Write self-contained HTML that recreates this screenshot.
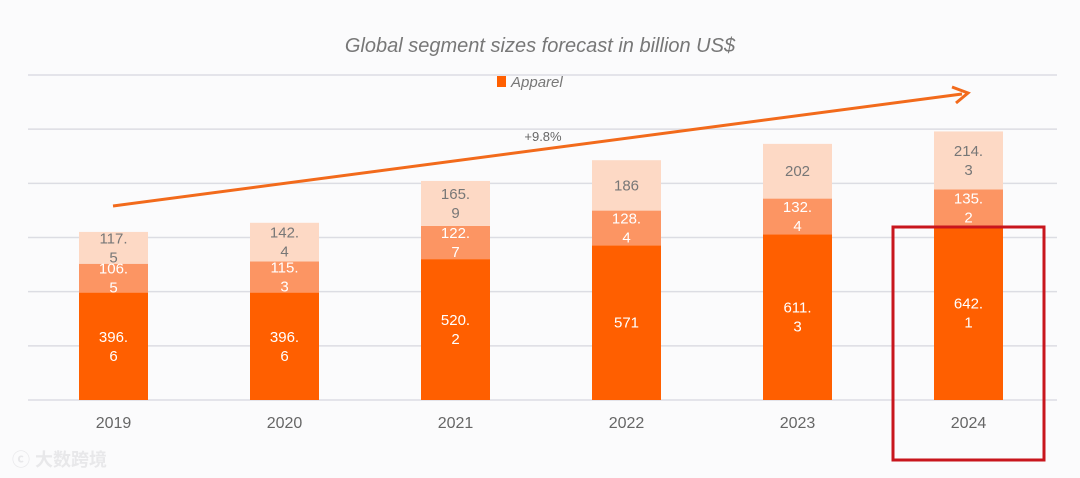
<!DOCTYPE html>
<html><head><meta charset="utf-8"><style>
html,body{margin:0;padding:0;background:#fbfbfc;}
svg{display:block;font-family:"Liberation Sans","Noto Sans CJK SC",sans-serif;}
</style></head><body>
<svg width="1080" height="478" viewBox="0 0 1080 478">
<rect width="1080" height="478" fill="#fbfbfc"/>
<text x="540" y="52" text-anchor="middle" font-size="20" fill="#777" font-style="italic">Global segment sizes forecast in billion US$</text>
<g id="grid"></g>
<g>
<rect x="497" y="76" width="9" height="11" fill="#ff5f00"/>
<text x="511" y="87" font-size="15" fill="#777" font-style="italic">Apparel</text>
</g>
<g id="bars"></g>
<g id="xlabels"></g>
<line x1="113" y1="206" x2="962" y2="94" stroke="#f26a1b" stroke-width="3"/>
<polyline points="952,87 968,93 956,103" fill="none" stroke="#f26a1b" stroke-width="3"/>
<text x="543" y="141" text-anchor="middle" font-size="13" fill="#666">+9.8%</text>
<rect x="893" y="227" width="151" height="233" fill="none" stroke="#c8161d" stroke-width="3"/>
<text x="12" y="466" font-size="18" fill="#e8e8ea" font-weight="bold">ⓒ 大数跨境</text>
</svg>
<script>
const years=["2019","2020","2021","2022","2023","2024"];
const base=[396.6,396.6,520.2,571,611.3,642.1];
const mid=[106.5,115.3,122.7,128.4,132.4,135.2];
const top3=[117.5,142.4,165.9,186,202,214.3];
const ticks=[0,200,400,600,800,1000,1200];
const NS="http://www.w3.org/2000/svg";
const y0=400,scale=325/1200;
const Y=v=>y0-v*scale;
const X=i=>113.5+i*171;
const bw=69;
const grid=document.getElementById('grid');
ticks.forEach(t=>{const l=document.createElementNS(NS,'line');
l.setAttribute('x1',28);l.setAttribute('x2',1057);l.setAttribute('y1',Y(t));l.setAttribute('y2',Y(t));
l.setAttribute('stroke','#dcdde3');l.setAttribute('stroke-width',1.5);


grid.appendChild(l);});
const bars=document.getElementById('bars');
function lbl(txt,cx,cy,color){
 const s=String(txt);const parts=s.length>3&&s.includes('.')?[s.slice(0,s.indexOf('.')+1),s.slice(s.indexOf('.')+1)]:[s];
 parts.forEach((p,k)=>{const t=document.createElementNS(NS,'text');
 t.setAttribute('x',cx);t.setAttribute('y',cy+5+(k-(parts.length-1)/2)*19);
 t.setAttribute('text-anchor','middle');t.setAttribute('font-size',15);t.setAttribute('fill',color);
 
 
 t.textContent=p;bars.appendChild(t);});
}
years.forEach((yr,i)=>{
 const segs=[[0,base[i],'#ff5f00','#fff','bar-base-'+yr],[base[i],mid[i],'#fc9563','#fff','bar-mid-'+yr],[base[i]+mid[i],top3[i],'#fdd9c5','#777','bar-top-'+yr]];
 segs.forEach(([s,v,c,tc,n])=>{const r=document.createElementNS(NS,'rect');
  r.setAttribute('x',X(i)-bw/2);r.setAttribute('width',bw);r.setAttribute('y',Y(s+v));r.setAttribute('height',v*scale);r.setAttribute('fill',c);
  
  
  bars.appendChild(r);
  lbl(v,X(i),Y(s+v/2),tc);});
 const t=document.createElementNS(NS,'text');
 t.setAttribute('x',X(i));t.setAttribute('y',428);t.setAttribute('text-anchor','middle');t.setAttribute('font-size',16);t.setAttribute('fill','#666');
 
 
 t.textContent=yr;document.getElementById('xlabels').appendChild(t);
});
</script>
</body></html>
